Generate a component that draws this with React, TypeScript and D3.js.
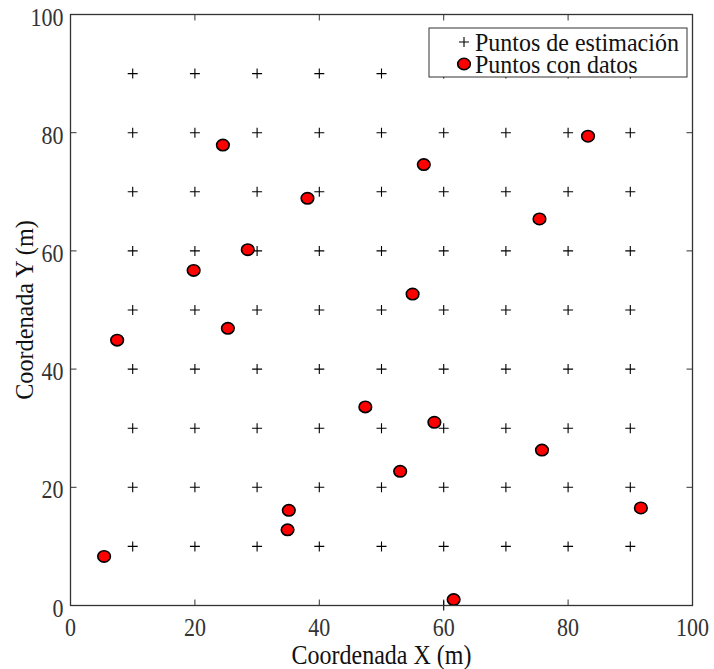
import React from "react";
import * as d3 from "d3";

const estX = [10, 20, 30, 40, 50, 60, 70, 80, 90];
const estY = [10, 20, 30, 40, 50, 60, 70, 80, 90];
const extraEst = [{ x: 60, y: 0 }];

const dataX = [5.4, 7.5, 19.8, 24.5, 25.3, 28.5, 35.1, 34.9, 38.1, 47.4, 53.0, 55.0, 56.8, 58.5, 61.6, 75.4, 75.8, 83.2, 91.7];
const dataY = [8.3, 44.9, 56.7, 77.9, 46.9, 60.2, 16.1, 12.8, 68.9, 33.6, 22.7, 52.7, 74.6, 31.0, 1.0, 65.4, 26.3, 79.4, 16.5];

const xTicks = [0, 20, 40, 60, 80, 100];
const yTicks = [0, 20, 40, 60, 80, 100];

const W = 714;
const H = 669;
const L = 70.5, R = 692.5, T = 14.5, B = 605.5;
const FONT = "Liberation Serif";

export default function App() {
  const x = d3.scaleLinear().domain([0, 100]).range([L, R]);
  const y = d3.scaleLinear().domain([0, 100]).range([B, T]);

  const ests: { x: number; y: number }[] = [];
  estY.forEach((yy) => estX.forEach((xx) => ests.push({ x: xx, y: yy })));
  extraEst.forEach((p) => ests.push(p));

  const pts = dataX.map((v, i) => ({ x: v, y: dataY[i] }));
  const tl = 6;
  const plus = (cx: number, cy: number, s: number) =>
    `M${cx - s},${cy}H${cx + s}M${cx},${cy - s}V${cy + s}`;

  return (
    <svg width={W} height={H} style={{ position: "absolute", left: 0, top: 0, background: "#fff" }}>
      <rect x={0} y={0} width={W} height={H} fill="#fff" />
      <g stroke="#333" strokeWidth={1}>
        {xTicks.map((t) => (
          <g key={"xt" + t}>
            <line x1={x(t)} x2={x(t)} y1={B} y2={B - tl} />
            <line x1={x(t)} x2={x(t)} y1={T} y2={T + tl} />
          </g>
        ))}
        {yTicks.map((t) => (
          <g key={"yt" + t}>
            <line x1={L} x2={L + tl} y1={y(t)} y2={y(t)} />
            <line x1={R} x2={R - tl} y1={y(t)} y2={y(t)} />
          </g>
        ))}
      </g>
      <g stroke="#000" strokeWidth={1.1} fill="none">
        {ests.map((p, i) => (
          <path key={"e" + i} d={plus(x(p.x), y(p.y), 5)} />
        ))}
      </g>
      <g fill="#ff0000" stroke="#000" strokeWidth={1.6}>
        {pts.map((p, i) => (
          <ellipse key={"d" + i} cx={x(p.x)} cy={y(p.y)} rx={6.3} ry={5.7} />
        ))}
      </g>
      <rect x={L} y={T} width={R - L} height={B - T} fill="none" stroke="#333" strokeWidth={1.3} />
      <g fontFamily={FONT} fontSize={22} fill="#333">
        {xTicks.map((t) => (
          <text key={"xl" + t} transform={`translate(${x(t)},${636}) scale(1,1.12)`} textAnchor="middle">
            {t}
          </text>
        ))}
        {yTicks.map((t) => (
          <text key={"yl" + t} transform={`translate(${L - 7},${y(t) + 11}) scale(1,1.12)`} textAnchor="end">
            {t}
          </text>
        ))}
      </g>
      <text transform={`translate(${(L + R) / 2},${664}) scale(1,1.12)`} textAnchor="middle" fontFamily={FONT} fontSize={24} fill="#111">
        Coordenada X (m)
      </text>
      <text transform={`translate(${33},${(T + B) / 2}) rotate(-90) scale(1.1,1.12)`} textAnchor="middle" fontFamily={FONT} fontSize={22} fill="#111">
        Coordenada Y (m)
      </text>
      <g>
        <rect x={429} y={28} width={258} height={49} fill="#fff" stroke="#333" strokeWidth={1} />
        <path d={plus(464, 42, 5)} stroke="#000" strokeWidth={1.1} fill="none" />
        <ellipse cx={464} cy={64} rx={6.3} ry={5.7} fill="#ff0000" stroke="#000" strokeWidth={1.6} />
        <text transform="translate(475,51) scale(1,1.08)" fontFamily={FONT} fontSize={24} fill="#111">
          Puntos de estimación
        </text>
        <text transform="translate(475,73) scale(1,1.08)" fontFamily={FONT} fontSize={24} fill="#111">
          Puntos con datos
        </text>
      </g>
    </svg>
  );
}
